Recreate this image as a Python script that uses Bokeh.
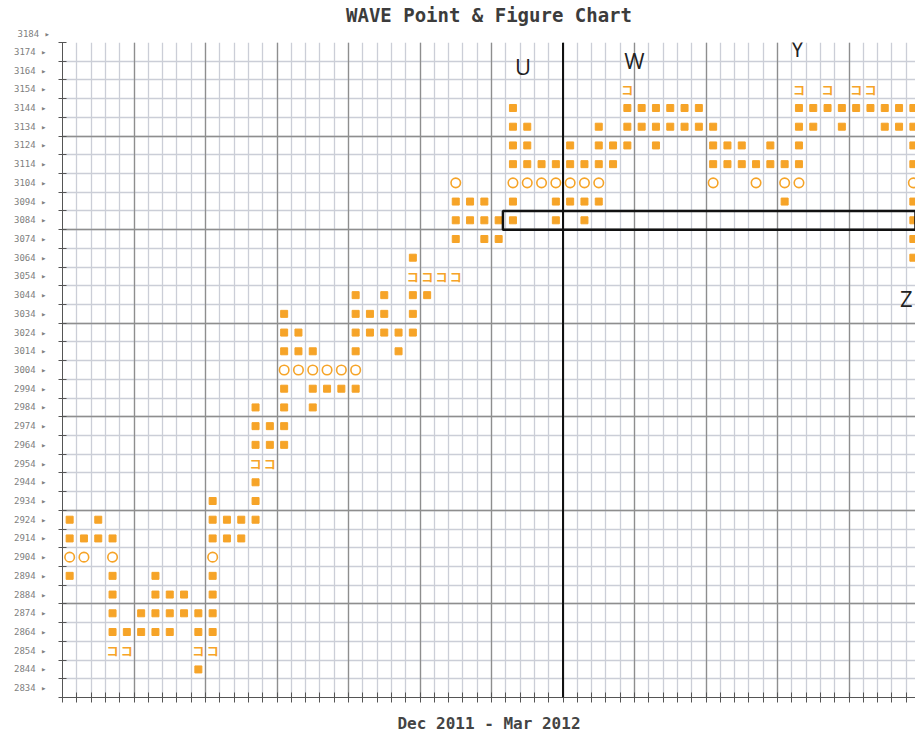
from bokeh.plotting import figure
from bokeh.models import FixedTicker, Grid, Label, BoxAnnotation, Span, Title
from bokeh.core.properties import value
from bokeh.embed import file_html
from bokeh.resources import INLINE

# ---------------- data ----------------
TITLE = "WAVE Point & Figure Chart"
PERIOD = "Dec 2011 - Mar 2012"
BOX = 10
PRICE_LOW = 2829          # lower edge of the lowest box
PRICE_HIGH = 3179         # upper edge of the highest box
LABEL_PRICES = list(range(2834, 3175, 10))
TOP_LABEL_PRICE = 3184

# filled boxes, one list of box prices per column (index = column)
filled_by_column = [
    [2894, 2914, 2924],
    [2914],
    [2914, 2924],
    [2864, 2874, 2884, 2894, 2914],
    [2864],
    [2864, 2874],
    [2864, 2874, 2884, 2894],
    [2864, 2874, 2884],
    [2874, 2884],
    [2844, 2864, 2874],
    [2864, 2874, 2884, 2894, 2914, 2924, 2934],
    [2914, 2924],
    [2914, 2924],
    [2924, 2934, 2944, 2964, 2974, 2984],
    [2964, 2974],
    [2964, 2974, 2984, 2994, 3014, 3024, 3034],
    [3014, 3024],
    [2984, 2994, 3014],
    [2994],
    [2994],
    [2994, 3014, 3024, 3034, 3044],
    [3024, 3034],
    [3024, 3034, 3044],
    [3014, 3024],
    [3024, 3034, 3044, 3064],
    [3044],
    [],
    [3074, 3084, 3094],
    [3084, 3094],
    [3074, 3084, 3094],
    [3074, 3084],
    [3084, 3094, 3114, 3124, 3134, 3144],
    [3114, 3124, 3134],
    [3114],
    [3084, 3094, 3114],
    [3094, 3114, 3124],
    [3084, 3094, 3114],
    [3094, 3114, 3124, 3134],
    [3114, 3124],
    [3124, 3134, 3144],
    [3134, 3144],
    [3124, 3134, 3144],
    [3134, 3144],
    [3134, 3144],
    [3134, 3144],
    [3114, 3124, 3134],
    [3114, 3124],
    [3114, 3124],
    [3114],
    [3114, 3124],
    [3094, 3114],
    [3114, 3124, 3134, 3144],
    [3134, 3144],
    [3144],
    [3134, 3144],
    [3144],
    [3144],
    [3134, 3144],
    [3134, 3144],
    [3064, 3074, 3084, 3094, 3114, 3124, 3134, 3144],
]

# hollow "O" boxes
o_columns = [0, 1, 3, 10, 15, 16, 17, 18, 19, 20, 27, 31, 32, 33, 34, 35, 36, 37, 45, 48, 50, 51, 59]
o_prices = [2904, 2904, 2904, 2904, 3004, 3004, 3004, 3004, 3004, 3004,
            3104, 3104, 3104, 3104, 3104, 3104, 3104, 3104, 3104, 3104, 3104, 3104, 3104]

# month marker boxes
month_columns = [3, 4, 9, 10, 13, 14, 24, 25, 26, 27, 39, 51, 53, 55, 56]
month_prices = [2854, 2854, 2854, 2854, 2954, 2954, 3054, 3054, 3054, 3054,
                3154, 3154, 3154, 3154, 3154]

# ---------------- figure ----------------
ORANGE = "#F6A428"
N_COLS = len(filled_by_column)
W, H = 915, 747
ML, MT, MB = 62, 42, 50
col_px = 14.3
x_end = -0.5 + (W - ML) / col_px

p = figure(width=W, height=H, x_range=(-0.5, x_end), y_range=(PRICE_LOW, PRICE_HIGH),
           output_backend="svg", toolbar_location=None,
           min_border_left=ML, min_border_right=0, min_border_top=MT, min_border_bottom=MB)
p.outline_line_color = None
p.background_fill_color = "white"

col_bounds = [i - 0.5 for i in range(N_COLS + 2)]
row_bounds = list(range(PRICE_LOW, PRICE_HIGH + 1, BOX))

# small label for the box above the top edge (placed nearest the frame)
p.add_layout(Title(text=f"{TOP_LABEL_PRICE} \u25b8", align="left", offset=-45,
                   text_font="DejaVu Sans Mono", text_font_size="9px",
                   text_font_style="normal", text_color="#808080", standoff=7), "above")

# main title
p.title.text = TITLE
p.title.align = "center"
p.title.text_font = "DejaVu Sans Mono"
p.title.text_font_size = "19px"
p.title.text_font_style = "bold"
p.title.text_color = "#3c3c3c"
p.title.standoff = -5

# x axis
p.xaxis.ticker = FixedTicker(ticks=col_bounds)
p.xaxis.major_label_overrides = {t: "" for t in col_bounds}
p.xaxis.major_label_text_font_size = "9px"
p.xaxis.major_label_standoff = 0
p.xaxis.major_tick_in = 5
p.xaxis.major_tick_out = 5
p.xaxis.axis_line_color = "#555555"
p.xaxis.major_tick_line_color = "#555555"
p.xaxis.minor_tick_line_color = None
p.xaxis.axis_label = PERIOD
p.xaxis.axis_label_text_font = "DejaVu Sans Mono"
p.xaxis.axis_label_text_font_style = "bold"
p.xaxis.axis_label_text_font_size = "16px"
p.xaxis.axis_label_text_color = "#444444"
p.xaxis.axis_label_standoff = 11

# y axis
p.yaxis.ticker = FixedTicker(ticks=LABEL_PRICES, minor_ticks=row_bounds)
p.yaxis.major_tick_line_color = None
p.yaxis.major_tick_in = 0
p.yaxis.major_tick_out = 0
p.yaxis.minor_tick_in = 4
p.yaxis.minor_tick_out = 4
p.yaxis.minor_tick_line_color = "#555555"
p.yaxis.axis_line_color = "#555555"
p.yaxis.major_label_standoff = 12
p.yaxis.major_label_overrides = {v: f"{v} \u25b8" for v in LABEL_PRICES}
p.yaxis.major_label_text_font = "DejaVu Sans Mono"
p.yaxis.major_label_text_font_size = "9px"
p.yaxis.major_label_text_color = "#808080"

# grids
p.xgrid.ticker = FixedTicker(ticks=col_bounds)
p.ygrid.ticker = FixedTicker(ticks=row_bounds)
for g in (p.xgrid, p.ygrid):
    g.grid_line_color = "#cbced7"
    g.grid_line_width = 1.3
p.add_layout(Grid(dimension=0, ticker=FixedTicker(ticks=col_bounds[::5]),
                  grid_line_color="#8e8e8e", grid_line_width=1.3))
p.add_layout(Grid(dimension=1, ticker=FixedTicker(ticks=row_bounds[::5]),
                  grid_line_color="#8e8e8e", grid_line_width=1.3))

# marks
fx, fy = [], []
for c, prices in enumerate(filled_by_column):
    for v in prices:
        fx.append(c)
        fy.append(v)
p.scatter(x=fx, y=fy, marker="square", size=7, fill_color=ORANGE, line_color=ORANGE, line_width=1)
p.scatter(x=o_columns, y=o_prices, marker="circle", size=9.5, fill_color="white",
          line_color=ORANGE, line_width=1.6)
p.text(x=month_columns, y=month_prices, text=["\u30b3"] * len(month_columns),
       text_font=value("Noto Sans CJK JP"), text_font_size="12px", text_font_style="bold",
       text_color=ORANGE, text_align="center", text_baseline="middle")

# annotations
p.add_layout(Span(location=34.5, dimension="height", line_color="#111111", line_width=2))
p.add_layout(BoxAnnotation(left=30.3, bottom=3079, top=3089, fill_alpha=0,
                           line_color="#111111", line_width=2.5, line_alpha=1))
for letter, lx, ly in [("U", 31.7, 3166.7), ("W", 39.5, 3169.4), ("Y", 50.9, 3175.8), ("Z", 58.5, 3042.7)]:
    p.add_layout(Label(x=lx, y=ly, text=letter, text_font="Open Sans", text_font_size="22px",
                       text_color="#222222", text_align="center", text_baseline="middle"))

open("out.html", "w").write(file_html(p, INLINE))
